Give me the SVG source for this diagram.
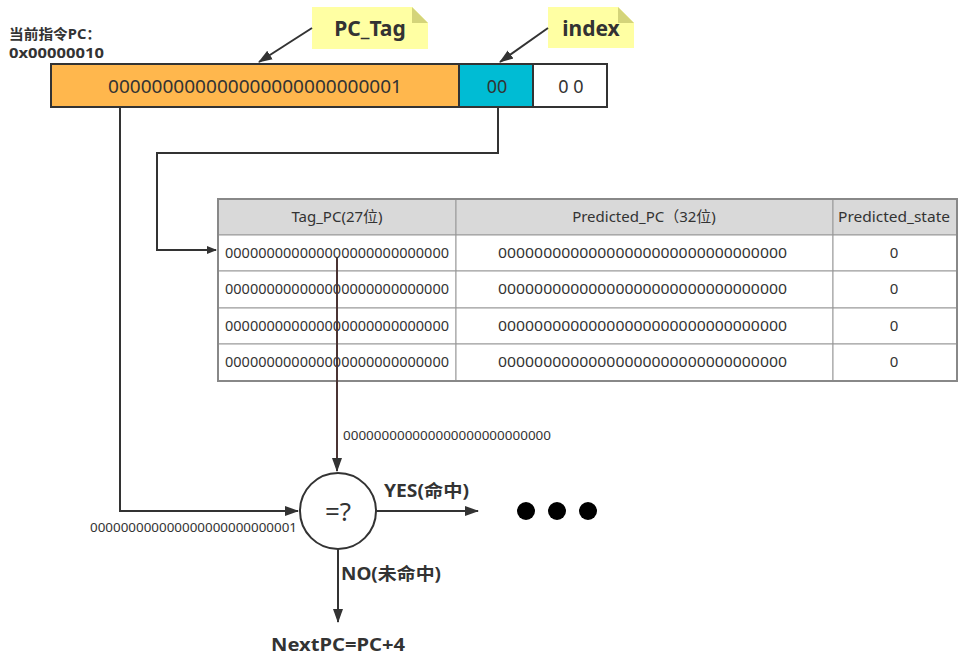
<svg xmlns="http://www.w3.org/2000/svg" width="971" height="664" viewBox="0 0 971 664">
<defs>
<style>
text{font-family:"Noto Sans","Noto Sans CJK SC",sans-serif;fill:#333}
.b{font-weight:bold}
.ln{fill:none;stroke:#333;stroke-width:2}
.cell{fill:#fff;stroke:#999;stroke-width:1}
.hd{fill:#d9d9d9;stroke:#999;stroke-width:1}
.t{font-size:15px}
</style>
<marker id="ah" markerWidth="10" markerHeight="10" refX="9" refY="5" orient="auto" markerUnits="userSpaceOnUse">
<path d="M0,1 L10,5 L0,9 Z" fill="#333"/>
</marker>
<marker id="ah2" markerWidth="14" markerHeight="12" refX="13" refY="6" orient="auto" markerUnits="userSpaceOnUse">
<path d="M0,1 L14,6 L0,11 Z" fill="#333"/>
</marker>
</defs>

<g id="pc-label">
<text x="9" y="39" class="b" font-size="14" textLength="92" lengthAdjust="spacingAndGlyphs">当前指令PC：</text>
<text x="9" y="58" class="b" font-size="14" textLength="95" lengthAdjust="spacingAndGlyphs">0x00000010</text>
</g>

<g id="pc-register">
<rect x="51" y="64" width="408" height="43" fill="#ffb74d" stroke="#333" stroke-width="2"/>
<text x="255" y="93" font-size="18" text-anchor="middle" textLength="294" lengthAdjust="spacingAndGlyphs">000000000000000000000000001</text>
<rect x="459" y="64" width="74" height="43" fill="#00bcd4" stroke="#333" stroke-width="2"/>
<text x="497" y="93" font-size="18" text-anchor="middle">00</text>
<rect x="533" y="64" width="74" height="43" fill="#fff" stroke="#333" stroke-width="2"/>
<text x="571" y="93" font-size="18" text-anchor="middle">0 0</text>
</g>

<g id="note-pctag">
<path d="M312,7 H412 L428,23 V49 H312 Z" fill="#ffff99" opacity="0.9"/>
<path d="M412,7 V23 H428 Z" fill="#d4d47a"/>
<text x="370" y="36" class="b" font-size="21" text-anchor="middle">PC_Tag</text>
</g>

<g id="note-index">
<path d="M548,7 H618 L634,23 V48 H548 Z" fill="#ffff99" opacity="0.9"/>
<path d="M618,7 V23 H634 Z" fill="#d4d47a"/>
<text x="591" y="36" class="b" font-size="21" text-anchor="middle">index</text>
</g>

<g id="btb-table">
<rect x="218" y="199" width="238" height="36" class="hd"/>
<rect x="456" y="199" width="377" height="36" class="hd"/>
<rect x="833" y="199" width="124" height="36" class="hd"/>
<text x="337" y="222" class="t" text-anchor="middle">Tag_PC(27位)</text>
<text x="644" y="222" class="t" text-anchor="middle">Predicted_PC（32位)</text>
<text x="894" y="222" class="t" text-anchor="middle" textLength="112" lengthAdjust="spacingAndGlyphs">Predicted_state</text>

<rect x="218" y="235" width="238" height="36" class="cell"/>
<rect x="456" y="235" width="377" height="36" class="cell"/>
<rect x="833" y="235" width="124" height="36" class="cell"/>
<rect x="218" y="271" width="238" height="37" class="cell"/>
<rect x="456" y="271" width="377" height="37" class="cell"/>
<rect x="833" y="271" width="124" height="37" class="cell"/>
<rect x="218" y="308" width="238" height="36" class="cell"/>
<rect x="456" y="308" width="377" height="36" class="cell"/>
<rect x="833" y="308" width="124" height="36" class="cell"/>
<rect x="218" y="344" width="238" height="37" class="cell"/>
<rect x="456" y="344" width="377" height="37" class="cell"/>
<rect x="833" y="344" width="124" height="37" class="cell"/>
<rect x="218" y="199" width="739" height="182" fill="none" stroke="#888" stroke-width="2"/>

<text x="225" y="258" class="t" textLength="224" lengthAdjust="spacingAndGlyphs">000000000000000000000000000</text>
<text x="498" y="258" class="t" textLength="289" lengthAdjust="spacingAndGlyphs">00000000000000000000000000000000</text>
<text x="894" y="258" class="t" text-anchor="middle">0</text>
<text x="225" y="294" class="t" textLength="224" lengthAdjust="spacingAndGlyphs">000000000000000000000000000</text>
<text x="498" y="294" class="t" textLength="289" lengthAdjust="spacingAndGlyphs">00000000000000000000000000000000</text>
<text x="894" y="294" class="t" text-anchor="middle">0</text>
<text x="225" y="331" class="t" textLength="224" lengthAdjust="spacingAndGlyphs">000000000000000000000000000</text>
<text x="498" y="331" class="t" textLength="289" lengthAdjust="spacingAndGlyphs">00000000000000000000000000000000</text>
<text x="894" y="331" class="t" text-anchor="middle">0</text>
<text x="225" y="367" class="t" textLength="224" lengthAdjust="spacingAndGlyphs">000000000000000000000000000</text>
<text x="498" y="367" class="t" textLength="289" lengthAdjust="spacingAndGlyphs">00000000000000000000000000000000</text>
<text x="894" y="367" class="t" text-anchor="middle">0</text>
</g>

<g id="comparator">
<circle cx="338" cy="511" r="38" fill="#fff" stroke="#333" stroke-width="2"/>
<text x="338" y="521" font-size="26" text-anchor="middle">=?</text>
</g>

<g id="ellipsis">
<circle cx="526" cy="511" r="9" fill="#000"/>
<circle cx="557" cy="511" r="9" fill="#000"/>
<circle cx="588" cy="511" r="9" fill="#000"/>
</g>

<g id="nextpc">
<text x="271" y="651" class="b" font-size="18" textLength="134" lengthAdjust="spacingAndGlyphs">NextPC=PC+4</text>
</g>

<g id="connectors">
<line x1="312" y1="28" x2="259" y2="62" class="ln" marker-end="url(#ah2)"/>
<line x1="548" y1="28" x2="500" y2="62" class="ln" marker-end="url(#ah2)"/>
<polyline points="498,107 498,153 157,153 157,250 216,250" class="ln" marker-end="url(#ah)"/>
<polyline points="120,107 120,511 298,511" class="ln" marker-end="url(#ah2)"/>
<line x1="337" y1="258" x2="337" y2="471" stroke="#4a3434" stroke-width="2" marker-end="url(#ah2)"/>
<text x="343" y="440" font-size="12.5" textLength="208" lengthAdjust="spacingAndGlyphs">000000000000000000000000000</text>
<text x="90" y="532" font-size="12.5" textLength="207" lengthAdjust="spacingAndGlyphs">000000000000000000000000001</text>
<line x1="376" y1="511" x2="478" y2="511" class="ln" marker-end="url(#ah2)"/>
<text x="384" y="497" class="b" font-size="17" textLength="85" lengthAdjust="spacingAndGlyphs">YES(命中)</text>
<line x1="338" y1="549" x2="338" y2="622" class="ln" marker-end="url(#ah2)"/>
<text x="341" y="580" class="b" font-size="17" textLength="100" lengthAdjust="spacingAndGlyphs">NO(未命中)</text>
</g>
</svg>
